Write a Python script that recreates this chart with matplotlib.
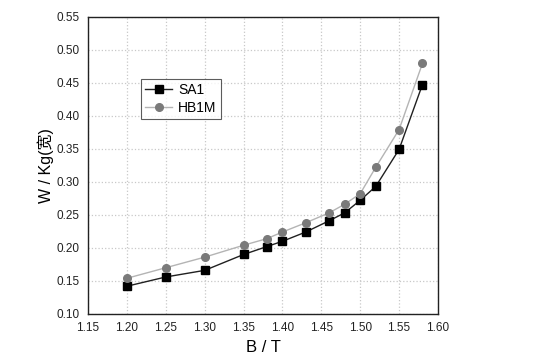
import matplotlib
matplotlib.use("Agg")
import matplotlib.pyplot as plt

plt.rcParams['font.family'] = ['Liberation Sans', 'Noto Sans CJK SC', 'DejaVu Sans']

# 磁感应强度 B (T)
b_vals = [1.20, 1.25, 1.30, 1.35, 1.38, 1.40, 1.43, 1.46, 1.48, 1.50, 1.52, 1.55, 1.58]
# 损耗 W/Kg
sa1 = [0.142, 0.156, 0.166, 0.190, 0.202, 0.210, 0.224, 0.241, 0.253, 0.272, 0.293, 0.349, 0.447]
hb1m = [0.154, 0.170, 0.186, 0.204, 0.214, 0.224, 0.238, 0.253, 0.266, 0.282, 0.322, 0.379, 0.479]

x_ticks = [1.15, 1.20, 1.25, 1.30, 1.35, 1.40, 1.45, 1.50, 1.55, 1.60]
y_ticks = [0.10, 0.15, 0.20, 0.25, 0.30, 0.35, 0.40, 0.45, 0.50, 0.55]

fig = plt.figure(figsize=(5.38, 3.63), dpi=100)
ax = fig.add_axes([0.1636, 0.135, 0.6505, 0.8195])

ax.plot(b_vals, sa1, color='#202020', lw=1.0, marker='s', ms=5.2,
        mfc='black', mec='black', label='SA1')
ax.plot(b_vals, hb1m, color='#b4b4b4', lw=1.0, marker='o', ms=5.5,
        mfc='#7a7a7a', mec='#7a7a7a', label='HB1M')

ax.set_xlim(1.15, 1.60)
ax.set_ylim(0.10, 0.55)
ax.set_xticks(x_ticks)
ax.set_yticks(y_ticks)
ax.set_xticklabels(['%.2f' % v for v in x_ticks])
ax.set_yticklabels(['%.2f' % v for v in y_ticks])
ax.tick_params(length=0, labelsize=8.5, pad=6, colors='#222222')
ax.grid(True, color='#c8c8c8', ls=':', lw=0.9)
for s in ax.spines.values():
    s.set_color('#222222')
    s.set_linewidth(1.0)

ax.set_xlabel('B / T', fontsize=12, labelpad=4)
ax.set_ylabel('W / Kg(宽)', fontsize=11.5, labelpad=2)

leg = ax.legend(loc='upper left', bbox_to_anchor=(0.15, 0.79), fontsize=10,
                frameon=True, fancybox=False, edgecolor='#333333',
                borderpad=0.3, handlelength=2.0, labelspacing=0.25,
                handletextpad=0.4, borderaxespad=0)
leg.get_frame().set_linewidth(0.8)

fig.savefig('out.png', dpi=100)
